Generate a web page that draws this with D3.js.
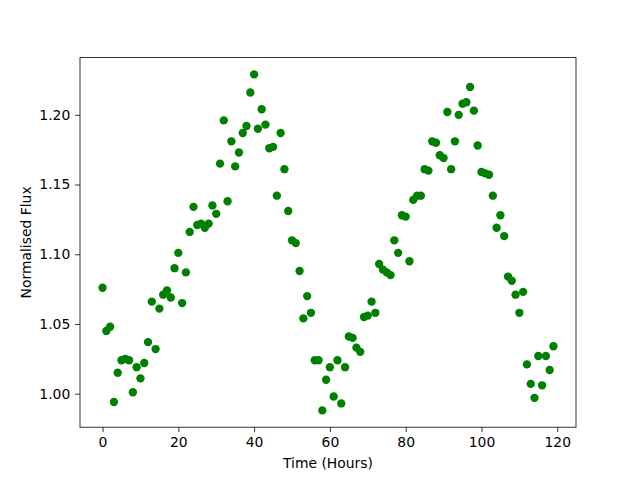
<!DOCTYPE html>
<html>
<head>
<meta charset="utf-8">
<script src="https://cdn.jsdelivr.net/npm/d3@7"></script>
<style>
  body { margin: 0; background: #fff; }
  svg text { font-family: "DejaVu Sans", sans-serif; }
</style>
</head>
<body>
<svg id="chart" width="640" height="480"></svg>
<script>
// hours since start, one sample per hour
const hours = d3.range(0, 120);
const flux = [
  1.076, 1.045, 1.048, 0.994, 1.015, 1.024, 1.025, 1.024, 1.001, 1.019,
  1.011, 1.022, 1.037, 1.066, 1.032, 1.061, 1.071, 1.074, 1.069, 1.090,
  1.101, 1.065, 1.087, 1.116, 1.134, 1.121, 1.122, 1.119, 1.122, 1.135,
  1.129, 1.165, 1.196, 1.138, 1.181, 1.163, 1.173, 1.187, 1.192, 1.216,
  1.229, 1.190, 1.204, 1.193, 1.176, 1.177, 1.142, 1.187, 1.161, 1.131,
  1.110, 1.108, 1.088, 1.054, 1.070, 1.058, 1.024, 1.024, 0.988, 1.010,
  1.019, 0.998, 1.024, 0.993, 1.019, 1.041, 1.040, 1.033, 1.030, 1.055,
  1.056, 1.066, 1.058, 1.093, 1.089, 1.087, 1.085, 1.110, 1.101, 1.128,
  1.127, 1.095, 1.139, 1.142, 1.142, 1.161, 1.160, 1.181, 1.180, 1.171,
  1.169, 1.202, 1.161, 1.181, 1.200, 1.208, 1.209, 1.220, 1.203, 1.178,
  1.159, 1.158, 1.157, 1.142, 1.119, 1.128, 1.113, 1.084, 1.081, 1.071,
  1.058, 1.073, 1.021, 1.007, 0.997, 1.027, 1.006, 1.027, 1.017, 1.034
];
const xTicks = [0, 20, 40, 60, 80, 100, 120];
const yTicks = [1.00, 1.05, 1.10, 1.15, 1.20];

const data = hours.map((h, i) => ({ x: h, y: flux[i] }));

const svg = d3.select('#chart');
const margin = { top: 57.6, right: 64, bottom: 52.8, left: 80 };
const width = 640, height = 480;
const tick = 4.86;

// matplotlib style 5% padding
function padded(ext) {
  const p = (ext[1] - ext[0]) * 0.05;
  return [ext[0] - p, ext[1] + p];
}

const xScale = d3.scaleLinear()
  .domain(padded(d3.extent(data, d => d.x)))
  .range([margin.left, width - margin.right]);
const yScale = d3.scaleLinear()
  .domain(padded(d3.extent(data, d => d.y)))
  .range([height - margin.bottom, margin.top]);

const xAxis = d3.axisBottom(xScale).tickValues(xTicks).tickFormat(d3.format('d'))
  .tickSize(tick).tickSizeOuter(0).tickPadding(4.86);
const yAxis = d3.axisLeft(yScale).tickValues(yTicks).tickFormat(d3.format('.2f'))
  .tickSize(tick).tickSizeOuter(0).tickPadding(4.86);

const gx = svg.append('g')
  .attr('transform', `translate(0, ${height - margin.bottom})`)
  .call(xAxis);
const gy = svg.append('g')
  .attr('transform', `translate(${margin.left}, 0)`)
  .call(yAxis);

[gx, gy].forEach(g => {
  g.select('.domain').remove();
  g.selectAll('.tick line').attr('stroke', '#000').attr('stroke-width', 0.8);
  g.selectAll('.tick text').attr('fill', '#000').style('font-size', '13.9px');
});

svg.selectAll('circle')
  .data(data)
  .enter()
  .append('circle')
  .attr('cx', d => xScale(d.x))
  .attr('cy', d => yScale(d.y))
  .attr('r', 4.17)
  .attr('fill', '#008000');

// axes frame
svg.append('rect')
  .attr('x', margin.left)
  .attr('y', margin.top)
  .attr('width', width - margin.left - margin.right)
  .attr('height', height - margin.top - margin.bottom)
  .attr('fill', 'none')
  .attr('stroke', '#000')
  .attr('stroke-width', 0.8);

svg.append('text')
  .attr('x', (margin.left + width - margin.right) / 2)
  .attr('y', 468)
  .attr('text-anchor', 'middle')
  .style('font-size', '13.9px')
  .text('Time (Hours)');

svg.append('text')
  .attr('transform', `translate(31, ${(margin.top + height - margin.bottom) / 2}) rotate(-90)`)
  .attr('text-anchor', 'middle')
  .style('font-size', '13.9px')
  .text('Normalised Flux');
</script>
</body>
</html>
